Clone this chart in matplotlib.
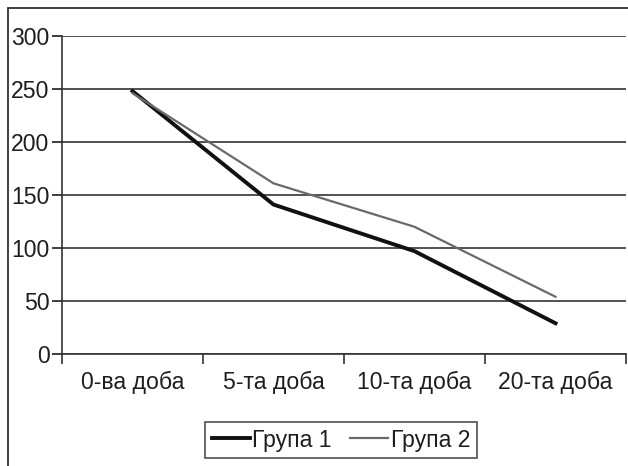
import matplotlib.pyplot as plt
from matplotlib.patches import Rectangle

days = ["0-ва доба", "5-та доба", "10-та доба", "20-та доба"]
group1 = [248, 141, 97, 29]
group2 = [246, 161, 120, 54]
y_ticks = [0, 50, 100, 150, 200, 250, 300]


def main():
    plt.rcParams["font.family"] = ["Liberation Sans", "DejaVu Sans"]
    plt.rcParams["font.size"] = 16.6
    ink = "#1e1e1e"

    fig = plt.figure(figsize=(6.28, 4.66), dpi=100)
    ax = fig.add_axes([62 / 628, 1 - 354 / 466, 564 / 628, 318 / 466])

    # outer chart border (cropped on right and bottom)
    fig.patches.append(Rectangle((8 / 628, -0.2), 1.2, 1.2 - 8 / 466,
                                 transform=fig.transFigure, fill=False,
                                 edgecolor="#333333", linewidth=1.3))

    x = list(range(len(days)))
    ax.plot(x, group1, color="#111111", linewidth=2.8, label="Група 1",
            solid_joinstyle="miter")
    ax.plot(x, group2, color="#6a6a6a", linewidth=1.6, label="Група 2")

    ax.set_xlim(-0.5, 3.5)
    ax.set_ylim(0, 300)
    ax.set_yticks(y_ticks)
    ax.set_xticks(x)
    ax.set_xticklabels(days)
    ax.set_xticks([-0.5, 0.5, 1.5, 2.5, 3.5], minor=True)
    ax.tick_params(axis="x", which="major", length=0, pad=12, colors=ink)
    ax.tick_params(axis="x", which="minor", length=7, width=1.2, direction="out", color="#333333")
    ax.tick_params(axis="y", length=7, width=1.2, direction="out", pad=2, colors=ink)

    ax.yaxis.grid(True, color="#222222", linewidth=1.1)
    ax.set_axisbelow(True)
    for side in ("top", "right"):
        ax.spines[side].set_visible(False)
    for side in ("left", "bottom"):
        ax.spines[side].set_color("#333333")
        ax.spines[side].set_linewidth(1.2)

    leg = fig.legend(loc="center", bbox_to_anchor=(341 / 628, 1 - 440 / 466), ncol=2,
                     frameon=True, fancybox=False, handlelength=1.65, handletextpad=0.1,
                     columnspacing=0.8, borderpad=0.3, borderaxespad=0)
    leg.get_frame().set_edgecolor("#222222")
    leg.get_frame().set_linewidth(1.2)
    for t in leg.get_texts():
        t.set_color(ink)

    fig.savefig("out.png", dpi=100)
    plt.close(fig)


if __name__ == "__main__":
    main()
